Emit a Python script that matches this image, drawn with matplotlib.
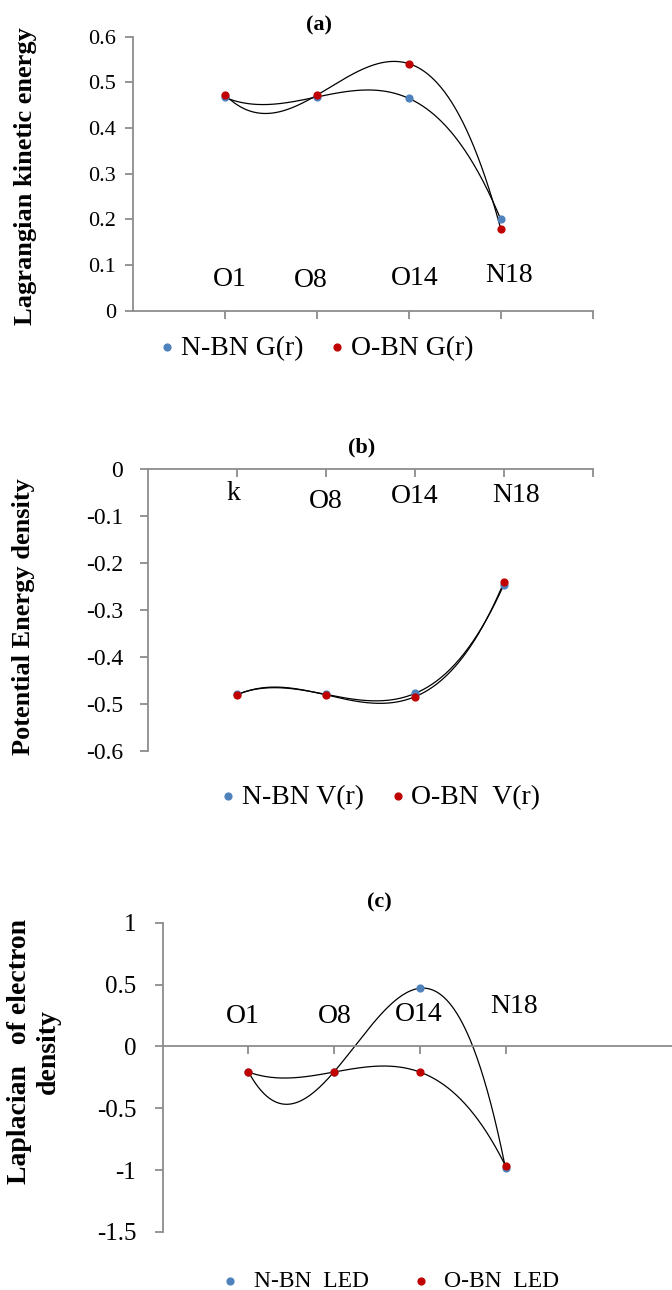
import numpy as np
import matplotlib.pyplot as plt

plt.rcParams['font.family'] = ['Liberation Serif', 'DejaVu Serif']

# x positions of the four atoms (category order)
x = np.array([1, 2, 3, 4])

# (a) Lagrangian kinetic energy G(r)
atoms_a = ['O1', 'O8', 'O14', 'N18']
nbn_g = [0.467, 0.468, 0.465, 0.200]
obn_g = [0.473, 0.472, 0.541, 0.179]

# (b) Potential energy density V(r)
atoms_b = ['k', 'O8', 'O14', 'N18']
nbn_v = [-0.480, -0.480, -0.478, -0.246]
obn_v = [-0.481, -0.481, -0.485, -0.241]

# (c) Laplacian of electron density
atoms_c = ['O1', 'O8', 'O14', 'N18']
nbn_led = [-0.205, -0.205, 0.470, -0.985]
obn_led = [-0.207, -0.207, -0.207, -0.965]

BLUE = '#4f81bd'
RED = '#c00000'
AXC = '#8c8c8c'

W, H = 672, 1290
fig = plt.figure(figsize=(W / 100, H / 100), dpi=100)


def px_axes(left, top, right, bottom):
    return fig.add_axes([left / W, 1 - bottom / H, (right - left) / W, (bottom - top) / H])


def num(v):
    s = ('%.1f' % v).rstrip('0').rstrip('.')
    return '0' if s in ('-0', '0') else s


def style(ax, xmax, ylim, yticks, xticks, size, pad):
    ax.set_xlim(0, xmax)
    ax.set_ylim(*ylim)
    for s in ['top', 'right']:
        ax.spines[s].set_visible(False)
    ax.spines['bottom'].set_position(('data', 0))
    for s in ['left', 'bottom']:
        ax.spines[s].set_color(AXC)
        ax.spines[s].set_linewidth(1.3)
    ax.set_yticks(yticks)
    ax.set_yticklabels([num(v) for v in yticks])
    ax.set_xticks(xticks)
    ax.set_xticklabels([])
    ax.tick_params(axis='both', direction='out', color=AXC, width=1.3, length=6)
    ax.tick_params(axis='y', labelsize=size, pad=pad)
    ax.patch.set_alpha(0)


def series(ax, ya, yb, labels, label_pos, names):
    xs = np.linspace(x[0], x[-1], 300)
    for y in (ya, yb):
        ax.plot(xs, np.polyval(np.polyfit(x, y, 3), xs), color='black', lw=0.9, zorder=2)
    ha = ax.scatter(x, ya, s=24, color=BLUE, zorder=3, label=names[0])
    hb = ax.scatter(x, yb, s=24, color=RED, zorder=4, label=names[1])
    for lab, (lx, ly) in zip(labels, label_pos):
        ax.text(lx, ly, lab, fontsize=20, ha='center', va='center')
    return ha, hb


def legend(handles, left, y, size, tpad, cspace):
    fig.legend(handles=handles, loc='center left', bbox_to_anchor=(left / W, 1 - y / H), ncol=2,
               frameon=False, fontsize=size, handlelength=0.6, handletextpad=tpad,
               columnspacing=cspace, borderpad=0, borderaxespad=0)


# panel (a)
ax = px_axes(133, 36.7, 592.7, 310.7)
style(ax, 5, (0, 0.6), np.arange(0, 0.61, 0.1), [1, 2, 3, 4, 5], 16, 6)
h = series(ax, nbn_g, obn_g, atoms_a,
           [(1.05, 0.068), (1.93, 0.066), (3.06, 0.071), (4.09, 0.076)],
           ['N-BN G(r)', 'O-BN G(r)'])
fig.text(319 / W, 1 - 25 / H, '(a)', fontsize=16, fontweight='bold', ha='center', va='center')
fig.text(26 / W, 1 - 176 / H, 'Lagrangian kinetic energy', fontsize=19, fontweight='bold',
         rotation=90, ha='center', va='center')
legend(h, 159, 348, 20, 0.2, 0.9)

# panel (b)
ax = px_axes(148.3, 469.3, 592.7, 750.7)
style(ax, 5, (-0.6, 0), np.arange(-0.6, 0.01, 0.1), [1, 2, 3, 4, 5], 17, 12)
h = series(ax, nbn_v, obn_v, atoms_b,
           [(0.96, -0.051), (2.0, -0.069), (3.0, -0.058), (4.14, -0.055)],
           ['N-BN V(r)', 'O-BN  V(r)'])
fig.text(362 / W, 1 - 447 / H, '(b)', fontsize=16, fontweight='bold', ha='center', va='center')
fig.text(24 / W, 1 - 617 / H, 'Potential Energy density', fontsize=19, fontweight='bold',
         rotation=90, ha='center', va='center')
legend(h, 220, 797, 20, 0.2, 0.9)

# panel (c)
ax = px_axes(162.7, 922.7, 672, 1232)
style(ax, (672 - 162.7) / 85.7, (-1.5, 1), np.arange(-1.5, 1.01, 0.5), [1, 2, 3, 4], 18, 13)
h = series(ax, nbn_led, obn_led, atoms_c,
           [(0.94, 0.24), (2.01, 0.24), (2.99, 0.26), (4.10, 0.32)],
           ['N-BN  LED', 'O-BN  LED'])
fig.text(379 / W, 1 - 902 / H, '(c)', fontsize=16, fontweight='bold', ha='center', va='center')
fig.text(34 / W, 1 - 1052 / H, 'Laplacian   of electron\ndensity', fontsize=20, fontweight='bold',
         rotation=90, ha='center', va='center', linespacing=1.2)
legend(h, 223, 1281, 17, 0.7, 1.9)

fig.savefig('out.png', dpi=100)
